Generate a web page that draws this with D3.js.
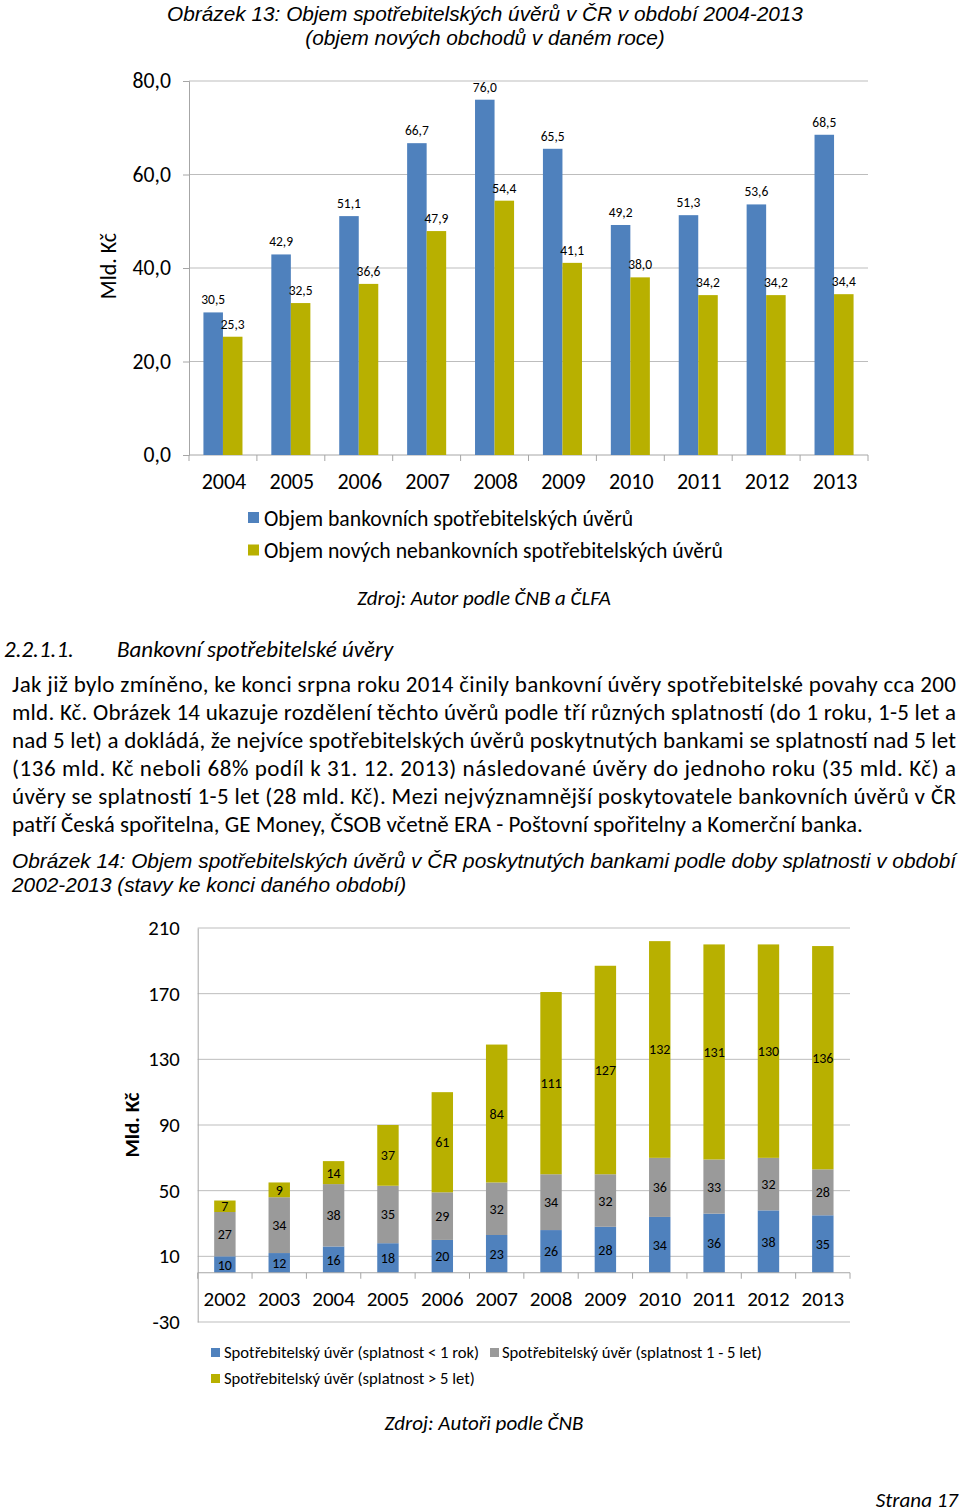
<!DOCTYPE html>
<html><head><meta charset="utf-8">
<script src="https://cdn.jsdelivr.net/npm/d3@7/dist/d3.min.js"></script>
<style>
html,body{margin:0;padding:0;background:#fff;}
svg{display:block;}
</style></head>
<body>
<script>
// ---------- DATA ----------
const years1 = ["2004","2005","2006","2007","2008","2009","2010","2011","2012","2013"];
const bankovni = [30.5,42.9,51.1,66.7,76.0,65.5,49.2,51.3,53.6,68.5];
const nebankovni = [25.3,32.5,36.6,47.9,54.4,41.1,38.0,34.2,34.2,34.4];
const ticks1 = [0,20,40,60,80];
const series1Names = ["Objem bankovních spotřebitelských úvěrů","Objem nových nebankovních spotřebitelských úvěrů"];

const years2 = ["2002","2003","2004","2005","2006","2007","2008","2009","2010","2011","2012","2013"];
const do1roku = [10,12,16,18,20,23,26,28,34,36,38,35];
const let1az5 = [27,34,38,35,29,32,34,32,36,33,32,28];
const nad5let = [7,9,14,37,61,84,111,127,132,131,130,136];
const ticks2 = [-30,10,50,90,130,170,210];
const series2Names = ["Spotřebitelský úvěr (splatnost < 1 rok)","Spotřebitelský úvěr (splatnost 1 - 5 let)","Spotřebitelský úvěr (splatnost > 5 let)"];

const paragraph = [
 "Jak již bylo zmíněno, ke konci srpna roku 2014 činily bankovní úvěry spotřebitelské povahy cca 200",
 "mld. Kč. Obrázek 14 ukazuje rozdělení těchto úvěrů podle tří různých splatností (do 1 roku, 1-5 let a",
 "nad 5 let) a dokládá, že nejvíce spotřebitelských úvěrů poskytnutých bankami se splatností nad 5 let",
 "(136 mld. Kč neboli 68% podíl k 31. 12. 2013) následované úvěry do jednoho roku (35 mld. Kč) a",
 "úvěry se splatností 1-5 let (28 mld. Kč). Mezi nejvýznamnější poskytovatele bankovních úvěrů v ČR",
 "patří Česká spořitelna, GE Money, ČSOB včetně ERA - Poštovní spořitelny a Komerční banka."
];

// ---------- STYLE ----------
const CAL = "Carlito, 'Liberation Sans Narrow', 'Open Sans', sans-serif";
const ARI = "'Liberation Sans', Arial, sans-serif";
const BLUE = "#4F81BD", OLIVE = "#B8B000", GRAY = "#9A9A9A";
const GRID = "#BDBDBD", AXIS = "#A6A6A6", TXT = "#000";

const svg = d3.select("body").append("svg").attr("width",960).attr("height",1512);
svg.append("rect").attr("width",960).attr("height",1512).attr("fill","#fff");

const comma = v => d3.format(".1f")(v).replace(".",",");

// ---------- CHART 1 ----------
svg.append("text").attr("x",485).attr("y",21).attr("text-anchor","middle")
  .attr("font-family",ARI).attr("font-style","italic").attr("font-size",20.8).attr("fill",TXT)
  .text("Obrázek 13: Objem spotřebitelských úvěrů v ČR v období 2004-2013");
svg.append("text").attr("x",485).attr("y",45).attr("text-anchor","middle")
  .attr("font-family",ARI).attr("font-style","italic").attr("font-size",20.8).attr("fill",TXT)
  .text("(objem nových obchodů v daném roce)");

const x1 = d3.scaleBand().domain(years1).range([189,868]).padding(0);
const y1 = d3.scaleLinear().domain([0,80]).range([455,81]);
const inner1 = d3.scaleBand().domain([0,1]).range([x1.bandwidth()*0.2125, x1.bandwidth()*0.7875]);

const g1 = svg.append("g");
g1.selectAll(".grid").data(ticks1.filter(t=>t>0)).join("line")
  .attr("x1",189).attr("x2",868).attr("y1",d=>y1(d)).attr("y2",d=>y1(d))
  .attr("stroke",GRID).attr("stroke-width",1);

const yAxis1 = d3.axisLeft(y1).tickValues(ticks1).tickSize(6).tickPadding(12).tickFormat(comma);
const ya1 = g1.append("g").attr("transform","translate(189,0)").call(yAxis1);
ya1.select(".domain").attr("stroke",AXIS);
ya1.selectAll(".tick line").attr("stroke",AXIS);
ya1.selectAll(".tick text").attr("font-family",CAL).attr("font-size",21.7).attr("fill",TXT);

const xa1 = g1.append("g").attr("transform","translate(0,455)");
xa1.append("line").attr("x1",189).attr("x2",868).attr("stroke",AXIS);
xa1.selectAll(".tk").data(years1.concat(["end"])).join("line")
  .attr("x1",(d,i)=>189+i*x1.step()).attr("x2",(d,i)=>189+i*x1.step())
  .attr("y1",0).attr("y2",6).attr("stroke",AXIS);
xa1.selectAll(".lb").data(years1).join("text")
  .attr("x",d=>x1(d)+x1.bandwidth()/2+1).attr("y",34).attr("text-anchor","middle")
  .attr("font-family",CAL).attr("font-size",22).attr("fill",TXT).text(d=>d);

const s1 = [bankovni, nebankovni], c1 = [BLUE, OLIVE];
s1.forEach((arr,si)=>{
  g1.selectAll(".b"+si).data(arr).join("rect")
    .attr("x",(d,i)=>x1(years1[i])+inner1(si)).attr("width",inner1.bandwidth())
    .attr("y",d=>y1(d)).attr("height",d=>y1(0)-y1(d)).attr("fill",c1[si]);
  g1.selectAll(".l"+si).data(arr).join("text")
    .attr("x",(d,i)=>x1(years1[i])+inner1(si)+inner1.bandwidth()/2).attr("y",d=>y1(d)-8)
    .attr("text-anchor","middle").attr("font-family",CAL).attr("font-size",13.5).attr("fill",TXT)
    .text(d=>comma(d));
});

svg.append("text").attr("transform","translate(116,266) rotate(-90)").attr("text-anchor","middle")
  .attr("font-family",CAL).attr("font-size",22).attr("fill",TXT).text("Mld. Kč");

// legend 1
series1Names.forEach((n,i)=>{
  svg.append("rect").attr("x",248).attr("y",512+i*32.5).attr("width",11).attr("height",11).attr("fill",c1[i]);
  svg.append("text").attr("x",264).attr("y",525.5+i*32.5).attr("font-family",CAL).attr("font-size",21.7)
    .attr("fill",TXT).text(n);
});
svg.append("text").attr("x",484).attr("y",605).attr("text-anchor","middle").attr("font-family",CAL)
  .attr("font-style","italic").attr("font-size",20.9).attr("fill",TXT).text("Zdroj: Autor podle ČNB a ČLFA");

// ---------- TEXT BODY ----------
svg.append("text").attr("x",4).attr("y",657).attr("font-family",CAL).attr("font-style","italic")
  .attr("font-size",23).attr("fill",TXT).text("2.2.1.1.");
svg.append("text").attr("x",117).attr("y",657).attr("font-family",CAL).attr("font-style","italic")
  .attr("font-size",23).attr("fill",TXT).text("Bankovní spotřebitelské úvěry");

paragraph.forEach((ln,i)=>{
  const t = svg.append("text").attr("x",12).attr("y",692+i*28).attr("font-family",CAL)
    .attr("font-size",23).attr("fill",TXT).text(ln);
  if(i<paragraph.length-1) t.attr("textLength",944).attr("lengthAdjust","spacing");
});

svg.append("text").attr("x",12).attr("y",868).attr("font-family",ARI).attr("font-style","italic")
  .attr("font-size",20.8).attr("fill",TXT).attr("textLength",944).attr("lengthAdjust","spacing")
  .text("Obrázek 14: Objem spotřebitelských úvěrů v ČR poskytnutých bankami podle doby splatnosti v období");
svg.append("text").attr("x",12).attr("y",892).attr("font-family",ARI).attr("font-style","italic")
  .attr("font-size",20.8).attr("fill",TXT).text("2002-2013 (stavy ke konci daného období)");

// ---------- CHART 2 ----------
const x2 = d3.scaleBand().domain(years2).range([197.7,850]).padding(0);
const y2 = d3.scaleLinear().domain([-30,210]).range([1322,928]);
const bw2 = x2.bandwidth()*0.394;
const g2 = svg.append("g");

g2.selectAll(".grid").data(ticks2).join("line")
  .attr("x1",197.7).attr("x2",850).attr("y1",d=>y2(d)).attr("y2",d=>y2(d))
  .attr("stroke",GRID).attr("stroke-width",1);

const yAxis2 = d3.axisLeft(y2).tickValues(ticks2).tickSize(0).tickPadding(18).tickFormat(d=>String(d));
const ya2 = g2.append("g").attr("transform","translate(197.7,0)").call(yAxis2);
ya2.select(".domain").attr("stroke",AXIS);
ya2.selectAll(".tick text").attr("font-family",CAL).attr("font-size",20.7).attr("fill",TXT);

const stack = d3.stack().keys([0,1,2])(years2.map((y,i)=>[do1roku[i],let1az5[i],nad5let[i]]));
const c2 = [BLUE, GRAY, OLIVE];
stack.forEach((layer,si)=>{
  g2.selectAll(".s"+si).data(layer).join("rect")
    .attr("x",(d,i)=>x2(years2[i])+(x2.bandwidth()-bw2)/2).attr("width",bw2)
    .attr("y",d=>y2(d[1])).attr("height",d=>y2(d[0])-y2(d[1])).attr("fill",c2[si]);
  g2.selectAll(".t"+si).data(layer).join("text")
    .attr("x",(d,i)=>x2(years2[i])+x2.bandwidth()/2).attr("y",d=>(y2(d[0])+y2(d[1]))/2+5)
    .attr("text-anchor","middle").attr("font-family",CAL).attr("font-size",14).attr("fill",TXT)
    .text(d=>d[1]-d[0]);
});

const xa2 = g2.append("g").attr("transform",`translate(0,${y2(0)})`);
xa2.append("line").attr("x1",197.7).attr("x2",850).attr("stroke",AXIS);
xa2.selectAll(".tk").data(years2.concat(["end"])).join("line")
  .attr("x1",(d,i)=>197.7+i*x2.step()).attr("x2",(d,i)=>197.7+i*x2.step())
  .attr("y1",0).attr("y2",6).attr("stroke",AXIS);
xa2.selectAll(".lb").data(years2).join("text")
  .attr("x",d=>x2(d)+x2.bandwidth()/2).attr("y",33).attr("text-anchor","middle")
  .attr("font-family",CAL).attr("font-size",21).attr("fill",TXT).text(d=>d);

svg.append("text").attr("transform","translate(139,1125) rotate(-90)").attr("text-anchor","middle")
  .attr("font-family",CAL).attr("font-weight","bold").attr("font-size",21).attr("fill",TXT).text("Mld. Kč");

// legend 2
const leg2 = [[211,224,1348],[490,502,1348],[211,224,1374]];
series2Names.forEach((n,i)=>{
  svg.append("rect").attr("x",leg2[i][0]).attr("y",leg2[i][2]).attr("width",9).attr("height",9).attr("fill",c2[i]);
  svg.append("text").attr("x",leg2[i][1]).attr("y",leg2[i][2]+10).attr("font-family",CAL).attr("font-size",16.6)
    .attr("fill",TXT).text(n);
});
svg.append("text").attr("x",484).attr("y",1430).attr("text-anchor","middle").attr("font-family",CAL)
  .attr("font-style","italic").attr("font-size",21).attr("fill",TXT).text("Zdroj: Autoři podle ČNB");

svg.append("text").attr("x",958).attr("y",1507).attr("text-anchor","end").attr("font-family",CAL)
  .attr("font-style","italic").attr("font-size",21).attr("fill",TXT).text("Strana 17");
</script>
</body></html>
